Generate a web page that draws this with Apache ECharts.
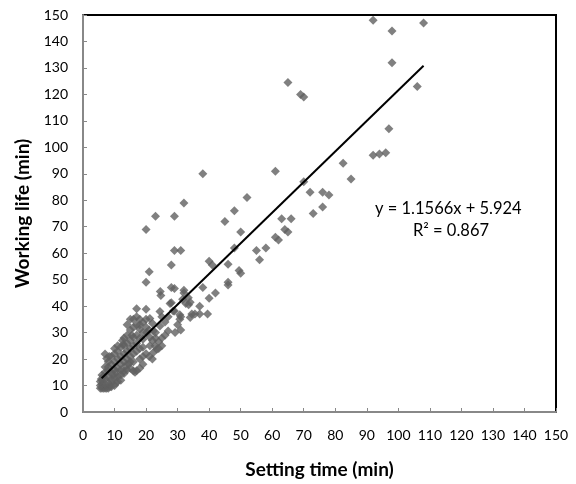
<!DOCTYPE html>
<html lang="en">
<head>
    <meta charset="UTF-8">
    <title>Working life vs setting time</title>
    <script src="https://cdn.jsdelivr.net/npm/echarts@6/dist/echarts.min.js"></script>
    <style>
        body { margin: 0; background: #fff; }
    </style>
</head>
<body>
<div id="main" style="width:576px;height:484px"></div>
<script>
    // measured points [setting time, working life]
    var upperPoints = [
        [92, 148], [98, 144], [108, 147], [98, 132], [106, 123], [97, 107],
        [92, 97], [94, 97.5], [96, 98], [82.5, 94], [85, 88], [70, 87],
        [72, 83], [76, 83], [78, 82], [76, 77.5], [73, 75], [63, 73], [66, 73],
        [64, 69], [65, 68], [62, 65], [61, 66], [69, 120], [70, 119], [65, 124.5],
        [61, 91], [38, 90], [52, 81], [48, 76], [45, 72], [32, 79], [23, 74],
        [29, 74], [20, 69], [50, 68], [55, 61], [58, 62], [56, 57.5], [48, 62],
        [40, 57], [41, 55.5], [46, 55.8], [49.5, 53.5], [50, 52.4], [46, 49],
        [46, 48], [42, 45], [40, 43], [38, 47], [37, 40], [34, 41.5], [33.5, 40.5],
        [34.5, 37], [37, 37], [35.5, 37], [31, 36], [32, 46], [32, 45], [31, 61],
        [29, 61], [28, 55.5], [21, 53], [20, 49], [39.5, 37]
    ];
    var midPoints = [
        [24.5, 45.5], [24.7, 44], [28, 47], [29, 46.7], [27.6, 41], [28, 41.3],
        [31.6, 42.6], [32.6, 41], [33.4, 43.2], [17, 39], [20, 38.8], [24.4, 38],
        [29, 38.2], [30.7, 36.7], [30.7, 35], [34, 35.7], [16, 35], [21.2, 35.3],
        [22, 33.5], [27, 30.6], [24.4, 32.5], [19, 33.8], [18, 31.3], [16, 28.2],
        [12.8, 25.6], [20.2, 30], [22.3, 30.6], [19, 27.5], [21.2, 25], [22.8, 25],
        [23.4, 23.7], [21.2, 28.2], [29.2, 30], [28.6, 38.2], [25, 36], [26, 34],
        [26, 29], [25, 28], [24, 26.5], [23, 28], [30, 33], [31, 31], [27, 36]
    ];
    var lowPoints = [
        [5.5, 9], [6, 9], [6.5, 9], [7, 9], [7.5, 9], [8, 9], [8.5, 9.5], [9, 9.5],
        [10, 10], [5.5, 10], [6, 10.5], [7, 10.5], [8, 11], [9, 11], [10.5, 11],
        [11, 11.5], [12, 12], [5.5, 11.5], [6, 12], [7, 12.5], [6.5, 13.5], [8, 13],
        [9, 12.5], [10, 13], [11, 13.5], [12, 14], [13, 14.5], [7, 15], [8, 15.5],
        [9, 15], [10, 16], [11, 16.5], [12, 16], [13, 15.5], [14, 16], [15, 16.5],
        [16, 15.5], [17, 15.6], [18, 16.5], [19, 18], [8, 17], [9, 18], [10, 19],
        [11, 20], [12, 21], [13, 22], [14, 23], [15, 24], [12, 18], [13, 19],
        [14, 20], [15, 21], [16, 22], [17, 23], [18, 24], [19, 24.5], [20, 22],
        [14, 26], [15, 27], [16, 25], [17, 26], [18, 28], [17, 29], [19, 30],
        [18, 33], [17, 33], [18, 35], [20, 35], [15, 19], [16, 19], [18, 20],
        [19, 21], [13, 25], [12, 24.5], [11, 23], [10, 22], [9, 21], [8.3, 21],
        [7.5, 20.2], [7, 21.9], [11, 25], [10, 24], [13, 28], [14, 29], [15, 31],
        [16, 32], [17, 36], [15, 35], [14, 33], [20, 32], [21, 31], [22, 27],
        [23, 30], [22, 20], [21, 21], [24, 24], [25, 25], [9.5, 14], [10.5, 15],
        [13.5, 17.5], [14.5, 18], [6, 14], [7, 17], [8, 19], [5.8, 12.5],
        [12.5, 27], [15.5, 29], [22.3, 22.5], [16.5, 15]
    ];
    var points = upperPoints.concat(midPoints, lowPoints);

    // linear trendline y = 1.1566x + 5.924
    var slope = 1.1566;
    var intercept = 5.924;
    var trendX = [5.9, 108];
    var trendData = trendX.map(function (x) { return [x, slope * x + intercept]; });

    var font = 'Lato, "Open Sans", sans-serif';
    var myChart = echarts.init(document.getElementById('main'));

    var option = {
        animation: false,
        backgroundColor: '#fff',
        grid: {
            left: 83, right: 20, top: 15, bottom: 71,
            show: true, borderColor: '#000', borderWidth: 2
        },
        xAxis: {
            type: 'value', min: 0, max: 150, interval: 10,
            name: 'Setting time (min)', nameLocation: 'middle', nameGap: 48,
            nameTextStyle: { fontFamily: font, fontSize: 19, fontWeight: 'bold', color: '#000' },
            axisLine: { lineStyle: { color: '#888', width: 2 } },
            axisTick: { inside: true, length: 4, lineStyle: { color: '#888' } },
            axisLabel: { fontFamily: font, fontSize: 14, color: '#000', margin: 16 },
            splitLine: { show: false }
        },
        yAxis: {
            type: 'value', min: 0, max: 150, interval: 10,
            name: 'Working life (min)', nameLocation: 'middle', nameGap: 50,
            nameTextStyle: { fontFamily: font, fontSize: 19, fontWeight: 'bold', color: '#000' },
            axisLine: { show: true, lineStyle: { color: '#888', width: 2 } },
            axisTick: { show: true, inside: true, length: 4, lineStyle: { color: '#888' } },
            axisLabel: { fontFamily: font, fontSize: 14, color: '#000', margin: 15 },
            splitLine: { show: false }
        },
        graphic: [
            { type: 'text', left: 375, top: 200,
              style: { text: 'y = 1.1566x + 5.924', font: '16.5px ' + font, fill: '#000' } },
            { type: 'text', left: 413, top: 222,
              style: { text: 'R² = 0.867', font: '16.5px ' + font, fill: '#000' } }
        ],
        series: [
            {
                type: 'scatter', data: points, symbol: 'diamond', symbolSize: 9,
                itemStyle: { color: '#606060' }, z: 2
            },
            {
                type: 'line', data: trendData, symbol: 'none',
                lineStyle: { color: '#000', width: 2 }, z: 3
            }
        ]
    };
    myChart.setOption(option);
</script>
</body>
</html>
